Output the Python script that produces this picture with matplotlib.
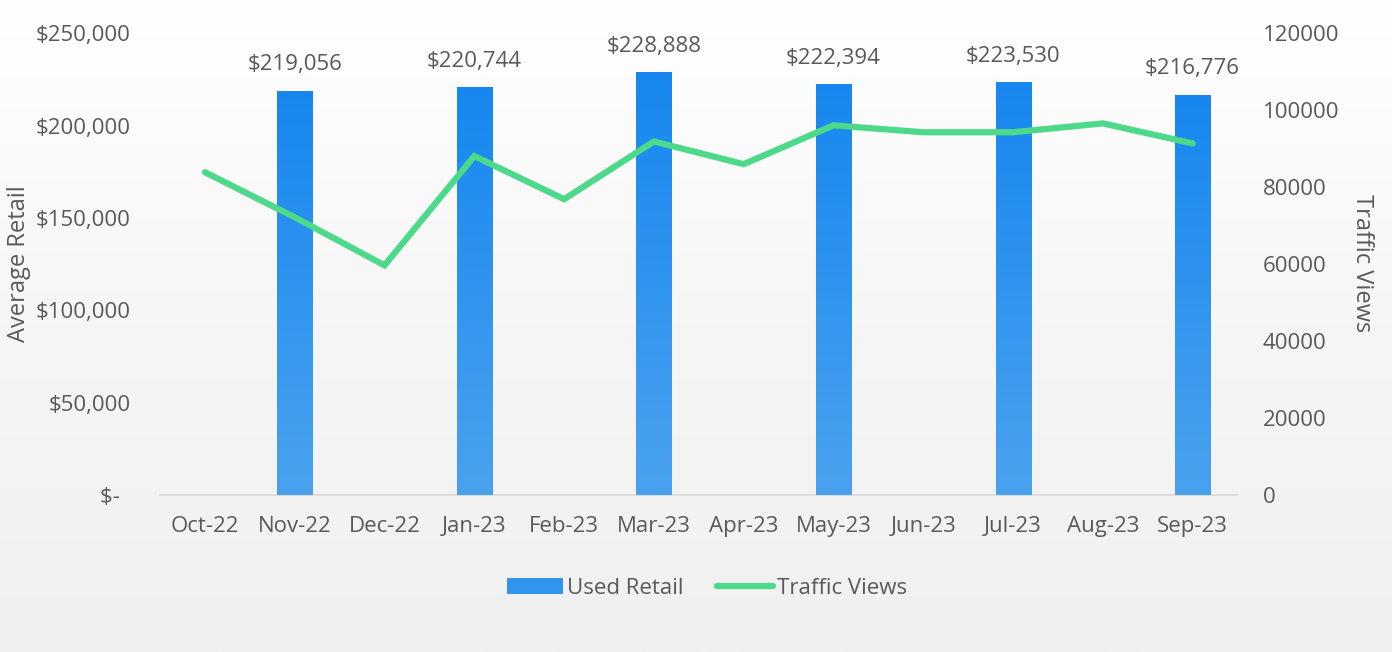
import numpy as np
import matplotlib
matplotlib.use("Agg")
import matplotlib.pyplot as plt
from matplotlib.colors import LinearSegmentedColormap
from matplotlib.lines import Line2D
from matplotlib.patches import Patch

plt.rcParams['font.family'] = ['Open Sans', 'DejaVu Sans']

months = ["Oct-22", "Nov-22", "Dec-22", "Jan-23", "Feb-23", "Mar-23",
          "Apr-23", "May-23", "Jun-23", "Jul-23", "Aug-23", "Sep-23"]
used_retail = [None, 219056, None, 220744, None, 228888,
               None, 222394, None, 223530, None, 216776]
traffic_views = [83900, 72200, 59700, 88100, 76900, 91900,
                 86000, 96100, 94300, 94300, 96600, 91400]
left_ticks = [0, 50000, 100000, 150000, 200000, 250000]
left_labels = ["$-  ", "$50,000", "$100,000", "$150,000", "$200,000", "$250,000"]
right_ticks = [0, 20000, 40000, 60000, 80000, 100000, 120000]

text_col = "#595959"
line_col = "#4CD98A"
fs = 16

fig = plt.figure(figsize=(13.92, 6.52), dpi=100)

# background gradient
bg = fig.add_axes([0, 0, 1, 1], zorder=-10)
grad = np.linspace(0, 1, 256).reshape(-1, 1)
bg_cmap = LinearSegmentedColormap.from_list("bg", ["#FFFFFF", "#F6F6F6", "#F0F0F0"])
bg.imshow(grad, aspect="auto", cmap=bg_cmap, extent=[0, 1, 0, 1], origin="upper")
bg.axis("off")

ax = fig.add_axes([0.115, 0.2408, 0.774, 0.708])
ax.patch.set_alpha(0)
x = np.arange(len(months))
bx = [i for i, v in enumerate(used_retail) if v is not None]
bv = [v for v in used_retail if v is not None]
bars = ax.bar(bx, bv, width=0.39, color="#3194EF", zorder=2)

bar_cmap = LinearSegmentedColormap.from_list("bar", ["#1787F0", "#4AA2EE"])
for b in bars:
    x0, y0 = b.get_x(), b.get_y()
    w, h = b.get_width(), b.get_height()
    im = ax.imshow(grad, aspect="auto", cmap=bar_cmap,
                   extent=[x0, x0 + w, y0, y0 + h], origin="upper", zorder=3)
    im.set_clip_path(b)

for xi, v in zip(bx, bv):
    ax.annotate(f"${v:,.0f}", (xi, v), xytext=(0, 11), textcoords="offset points",
                ha="center", va="bottom", fontsize=fs, color=text_col)

ax.set_xlim(-0.5, len(months) - 0.5)
ax.set_ylim(0, 250000)
ax.set_yticks(left_ticks)
ax.set_yticklabels(left_labels)
ax.set_xticks(x)
ax.set_xticklabels(months)
ax.tick_params(axis="both", length=0, labelsize=fs, labelcolor=text_col)
ax.tick_params(axis="x", pad=15)
ax.tick_params(axis="y", pad=21)
for s in ["top", "right", "left"]:
    ax.spines[s].set_visible(False)
ax.spines["bottom"].set_color("#D9D9D9")
ax.spines["bottom"].set_linewidth(1.2)
ax.set_ylabel("Average Retail", fontsize=17, color=text_col, va="center")
ax.yaxis.set_label_coords(-0.131, 0.502)

ax2 = ax.twinx()
ax2.plot(x, traffic_views, color=line_col, linewidth=4.5, solid_capstyle="round",
         solid_joinstyle="miter", zorder=5)
ax2.set_ylim(0, 120000)
ax2.set_yticks(right_ticks)
ax2.set_yticklabels([f"{v}" for v in right_ticks])
ax2.tick_params(axis="y", length=0, labelsize=fs, labelcolor=text_col, pad=18)
for s in ["top", "right", "left", "bottom"]:
    ax2.spines[s].set_visible(False)
ax2.set_ylabel("Traffic Views", fontsize=17, color=text_col, rotation=270, va="center")
ax2.yaxis.set_label_coords(1.116, 0.502)

handles = [Patch(facecolor="#3194EF", edgecolor="none"),
           Line2D([0], [0], color=line_col, linewidth=4.5, solid_capstyle="round")]
fig.legend(handles, ["Used Retail", "Traffic Views"], loc="center",
           bbox_to_anchor=(0.508, 0.098), ncol=2, frameon=False, fontsize=fs,
           labelcolor=text_col, handlelength=2.5, handletextpad=0.2, columnspacing=1.5)

fig.savefig("out.png", dpi=100)
